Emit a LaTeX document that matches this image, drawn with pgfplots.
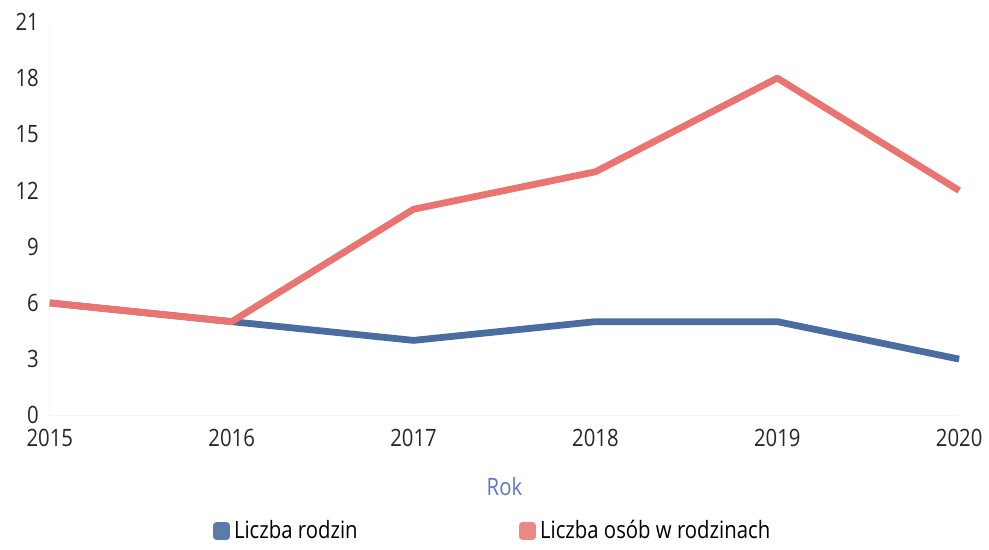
\documentclass[border=0pt]{standalone}
\usepackage{fontspec}
\setmainfont{Open Sans}[FakeStretch=0.85]
\usepackage{pgfplots}
\pgfplotsset{compat=1.18}
\definecolor{blueS}{RGB}{74,108,158}
\definecolor{redS}{RGB}{234,116,112}
\definecolor{rokC}{RGB}{98,118,190}
\begin{document}
\begin{tikzpicture}
\path (-25pt,-66pt) rectangle (469.5pt,208.5pt);
\begin{axis}[
  scale only axis,
  width=456.5pt, height=197.5pt,
  xmin=2015, xmax=2020, ymin=0, ymax=21,
  xtick={2015,2016,2017,2018,2019,2020},
  ytick={0,3,6,9,12,15,18,21},
  xticklabel={\pgfmathprintnumber[1000 sep={}]{\tick}},
  axis lines=left,
  axis line style={draw=gray!8, -},
  major tick length=0pt,
  /pgf/number format/assume math mode=true,
  tick label style={font=\fontsize{12}{14}\selectfont, black!85},
  xticklabel style={yshift=-3.5pt},
  yticklabel style={xshift=-2pt},
  xlabel={Rok},
  xlabel style={font=\fontsize{12}{14}\selectfont, text=rokC, at={(axis description cs:0.5,-0.182)}, anchor=center},
  legend columns=2,
  legend style={at={(axis description cs:0.488,-0.294)}, anchor=center, draw=none, font=\fontsize{12}{14}\selectfont, /tikz/every even column/.append style={column sep=79pt}},
  clip=false,
]
\addplot[draw=blueS, line width=3.4pt, line join=round,
  legend image code/.code={\fill[blueS!90] (0pt,-2.6pt) rectangle (5.2pt,2.6pt);}]
  coordinates {(2015,6) (2016,5) (2017,4) (2018,5) (2019,5) (2020,3)};
\addlegendentry{Liczba rodzin}
\addplot[draw=redS, line width=3.4pt, line join=round,
  legend image code/.code={\fill[redS!85] (0pt,-2.6pt) rectangle (5.2pt,2.6pt);}]
  coordinates {(2015,6) (2016,5) (2017,11) (2018,13) (2019,18) (2020,12)};
\addlegendentry{Liczba osób w rodzinach}
\end{axis}
\end{tikzpicture}
\end{document}
